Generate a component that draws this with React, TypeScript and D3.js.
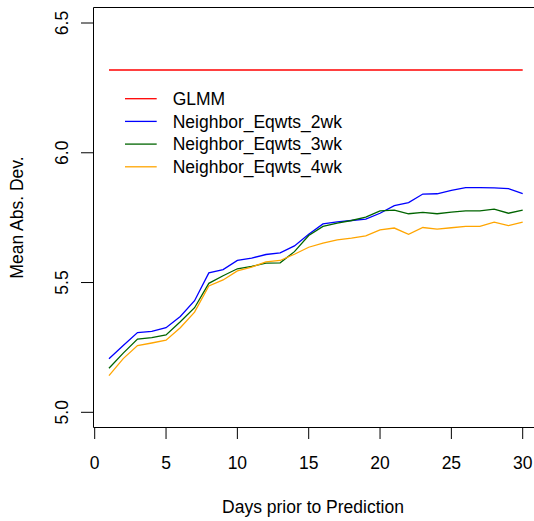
import React from "react";
import * as d3 from "d3";

const days = d3.range(1, 31);
const glmm = 6.319;
const eqwts2wk = [
  5.206, 5.257, 5.307, 5.312, 5.326, 5.369, 5.43, 5.537, 5.55, 5.585,
  5.594, 5.608, 5.614, 5.641, 5.686, 5.726, 5.734, 5.739, 5.744, 5.767,
  5.796, 5.808, 5.841, 5.842, 5.855, 5.866, 5.866, 5.865, 5.862, 5.843,
];
const eqwts3wk = [
  5.17, 5.228, 5.282, 5.288, 5.298, 5.349, 5.403, 5.497, 5.526, 5.553,
  5.562, 5.575, 5.576, 5.619, 5.681, 5.716, 5.729, 5.739, 5.752, 5.776,
  5.779, 5.765, 5.77, 5.765, 5.771, 5.776, 5.776, 5.783, 5.767, 5.779,
];
const eqwts4wk = [
  5.141, 5.207, 5.257, 5.267, 5.278, 5.326, 5.386, 5.487, 5.51, 5.545,
  5.559, 5.58, 5.585, 5.609, 5.636, 5.652, 5.664, 5.671, 5.68, 5.703,
  5.71, 5.686, 5.712, 5.706, 5.711, 5.716, 5.716, 5.733, 5.719, 5.733,
];
const legendLabels = ["GLMM", "Neighbor_Eqwts_2wk", "Neighbor_Eqwts_3wk", "Neighbor_Eqwts_4wk"];
const legendColors = ["#ff0000", "#0000ff", "#006400", "#ffa500"];
const xTicks = [0, 5, 10, 15, 20, 25, 30];
const yTicks = [5.0, 5.5, 6.0, 6.5];

const W = 534;
const H = 521;
const FONT = "'Liberation Sans', Arial, Helvetica, sans-serif";
const FS = 17.5;

export default function App() {
  const x = d3.scaleLinear().domain([0, 30]).range([94.7, 522.7]);
  const y = d3.scaleLinear().domain([5.0, 6.5]).range([412.3, 23]);
  const plotLeft = 93.5;
  const plotTop = 7.5;
  const plotBottom = 427.5;
  const plotRight = 534;

  const line = d3
    .line<number>()
    .x((_, i) => x(days[i]))
    .y((v) => y(v));

  const series = [
    { values: days.map(() => glmm), color: legendColors[0] },
    { values: eqwts2wk, color: legendColors[1] },
    { values: eqwts3wk, color: legendColors[2] },
    { values: eqwts4wk, color: legendColors[3] },
  ];

  const legendY0 = 98.7;
  const legendDy = 22.7;

  return (
    <svg
      width={W}
      height={H}
      style={{ position: "absolute", left: 0, top: 0, background: "#fff" }}
      fontFamily={FONT}
    >
      <rect x={0} y={0} width={W} height={H} fill="#fff" />
      {/* plot box */}
      <path
        d={`M${plotRight},${plotTop}H${plotLeft}V${plotBottom}H${plotRight}`}
        fill="none"
        stroke="#000"
        strokeWidth={1}
      />
      {/* series */}
      {series.map((s, i) => (
        <path key={i} d={line(s.values) || ""} fill="none" stroke={s.color} strokeWidth={1.3} />
      ))}
      {/* x axis */}
      <line x1={x(0)} x2={x(30)} y1={plotBottom} y2={plotBottom} stroke="#000" />
      {xTicks.map((t) => (
        <g key={t}>
          <line x1={x(t)} x2={x(t)} y1={plotBottom} y2={439} stroke="#000" />
          <text x={x(t)} y={469} textAnchor="middle" fontSize={FS} fill="#000">
            {t}
          </text>
        </g>
      ))}
      <text x={313} y={513} textAnchor="middle" fontSize={FS} fill="#000">
        Days prior to Prediction
      </text>
      {/* y axis */}
      {yTicks.map((t) => (
        <g key={t}>
          <line x1={81} x2={plotLeft} y1={y(t)} y2={y(t)} stroke="#000" />
          <text
            transform={`translate(68,${y(t)}) rotate(-90)`}
            textAnchor="middle"
            fontSize={FS}
            fill="#000"
          >
            {t.toFixed(1)}
          </text>
        </g>
      ))}
      <text
        transform={`translate(23,${(plotTop + plotBottom) / 2}) rotate(-90)`}
        textAnchor="middle"
        fontSize={FS}
        fill="#000"
      >
        Mean Abs. Dev.
      </text>
      {/* legend */}
      {legendLabels.map((lab, i) => {
        const ly = legendY0 + i * legendDy;
        return (
          <g key={lab}>
            <line x1={125} x2={156.7} y1={ly} y2={ly} stroke={legendColors[i]} strokeWidth={1.3} />
            <text x={172.7} y={ly} dy="0.35em" fontSize={FS} fill="#000">
              {lab}
            </text>
          </g>
        );
      })}
    </svg>
  );
}
